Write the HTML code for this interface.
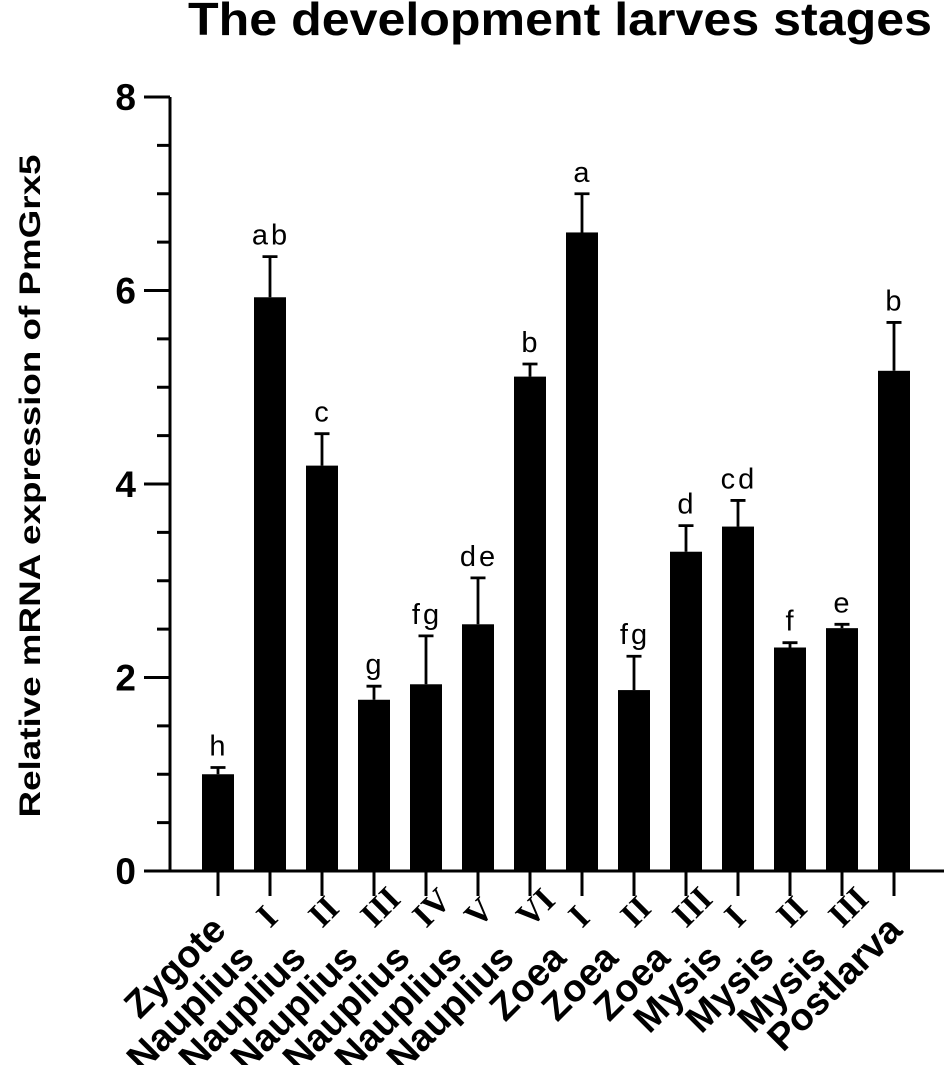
<!DOCTYPE html>
<html><head><meta charset="utf-8"><style>
html,body{margin:0;padding:0;background:#fff;}
svg{display:block;}
</style></head><body>
<svg id="chart" width="945" height="1065" viewBox="0 0 945 1065" xmlns="http://www.w3.org/2000/svg">
<text x="188" y="35" font-family="Liberation Sans, sans-serif" font-weight="bold" font-size="46" textLength="744" lengthAdjust="spacingAndGlyphs">The development larves stages</text>
<text transform="translate(40,486) rotate(-90)" text-anchor="middle" font-family="Liberation Sans, sans-serif" font-weight="bold" font-size="30" textLength="663" lengthAdjust="spacingAndGlyphs">Relative mRNA expression of PmGrx5</text>
<g id="plot"></g>
</svg>
<script>
const categories = ["Zygote","Nauplius","Nauplius","Nauplius","Nauplius","Nauplius","Nauplius","Zoea","Zoea","Zoea","Mysis","Mysis","Mysis","Postlarva"];
const numerals = ["","I","II","III","IV","V","VI","I","II","III","I","II","III",""];
const means = [1.00,5.93,4.19,1.77,1.93,2.55,5.11,6.60,1.87,3.30,3.56,2.31,2.51,5.17];
const errors = [0.07,0.42,0.33,0.14,0.50,0.48,0.13,0.40,0.35,0.27,0.27,0.05,0.04,0.50];
const letters = ["h","ab","c","g","fg","de","b","a","fg","d","cd","f","e","b"];
const yTicks = [0,2,4,6,8];
const yMinor = [0.5,1,1.5,2.5,3,3.5,4.5,5,5.5,6.5,7,7.5];

const NS = "http://www.w3.org/2000/svg";
const g = document.getElementById('plot');
const y0 = 871, pxPerUnit = 96.75, axisX = 170, x0 = 218, step = 52, barW = 32;
const yScale = v => y0 - v * pxPerUnit;
const xScale = i => x0 + i * step;
function mk(tag, attrs) {
  const e = document.createElementNS(NS, tag);
  for (const k in attrs) e.setAttribute(k, attrs[k]);
  g.appendChild(e);
  return e;
}
means.forEach((v, i) => {
  const cx = xScale(i);
  const r = mk('rect', {x: cx - barW/2, y: yScale(v), width: barW, height: y0 - yScale(v), fill: '#000'});
  
  
  const top = yScale(v + errors[i]);
  const el = mk('path', {d: `M${cx},${yScale(v)}V${top}M${cx-7.5},${top}H${cx+7.5}`, stroke: '#000', 'stroke-width': 2.8, fill: 'none'});
  
  
  const t = mk('text', {x: cx + 1, y: top - 12, 'text-anchor': 'middle', 'font-family': 'Liberation Sans, sans-serif', 'font-size': 29, 'letter-spacing': 3});
  t.textContent = letters[i];
  
  
});
const yAxis = mk('path', {d: `M${axisX},${yScale(8)}V${y0}`, stroke: '#000', 'stroke-width': 3, fill: 'none'});


const xAxis = mk('path', {d: `M${axisX-1.5},${y0}H944`, stroke: '#000', 'stroke-width': 3, fill: 'none'});


yTicks.forEach(v => {
  const tk = mk('path', {d: `M144,${yScale(v)}H${axisX}`, stroke: '#000', 'stroke-width': 3});
  
  
  const t = mk('text', {x: 136, y: yScale(v) + 13, 'text-anchor': 'end', 'font-family': 'Liberation Sans, sans-serif', 'font-weight': 'bold', 'font-size': 37});
  t.textContent = v;
  
  
});
yMinor.forEach(v => {
  const tk = mk('path', {d: `M157,${yScale(v)}H${axisX}`, stroke: '#000', 'stroke-width': 3});
  
  
});
categories.forEach((c, i) => {
  const cx = xScale(i);
  const tk = mk('path', {d: `M${cx},${y0}V896`, stroke: '#000', 'stroke-width': 3});
  
  
  let ex, ey;
  if (numerals[i]) { ex = cx - 14; ey = 960; } else { ex = cx + 10; ey = 932; }
  const grp = document.createElementNS(NS, 'g');
  grp.setAttribute('transform', `translate(${ex},${ey}) rotate(-45)`);
  
  
  g.appendChild(grp);
  const w = document.createElementNS(NS, 'text');
  w.setAttribute('x', 0); w.setAttribute('y', 0);
  w.setAttribute('text-anchor', 'end');
  w.setAttribute('font-family', 'Liberation Sans, sans-serif');
  w.setAttribute('font-weight', 'bold');
  w.setAttribute('font-size', 38);
  w.textContent = c;
  grp.appendChild(w);
  if (numerals[i]) {
    const n = document.createElementNS(NS, 'text');
    n.setAttribute('x', 32); n.setAttribute('y', -12);
    n.setAttribute('font-family', 'Liberation Serif, serif');
    n.setAttribute('font-weight', 'bold');
    n.setAttribute('font-size', 34);
    n.textContent = numerals[i];
    grp.appendChild(n);
  }
});
</script>
</body></html>
